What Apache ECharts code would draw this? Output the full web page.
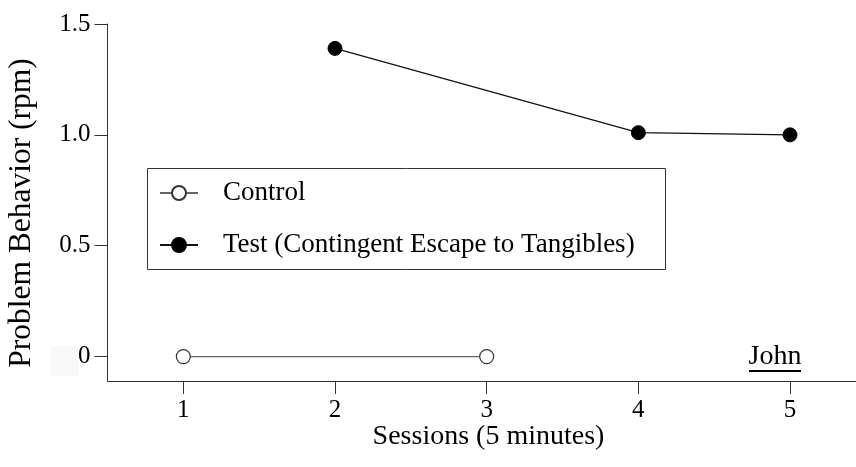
<!DOCTYPE html>
<html>
<head>
<meta charset="utf-8">
<script src="https://cdn.jsdelivr.net/npm/echarts@6/dist/echarts.min.js"></script>
<style>
html,body{margin:0;padding:0;background:#fff;}
#chart{width:856px;height:467px;}
</style>
</head>
<body>
<div id="chart"></div>
<script>
const sessions = [1, 2, 3, 4, 5];
const controlData = [[1, 0], [3, 0]];
const testData = [[2, 1.39], [4, 1.01], [5, 1.0]];
const yTicks = [0, 0.5, 1.0, 1.5];
const yTickLabels = {0: '0', 0.5: '0.5', 1: '1.0', 1.5: '1.5'};
const seriesNames = ['Control', 'Test (Contingent Escape to Tangibles)'];
const xName = 'Sessions (5 minutes)';
const yName = 'Problem Behavior (rpm)';
const panelLabel = 'John';

const FONT = '"Liberation Serif", "Times New Roman", serif';
const chart = echarts.init(document.getElementById('chart'), null, {renderer: 'canvas'});
chart.setOption({
  backgroundColor: '#fff',
  animation: false,
  textStyle: {fontFamily: FONT},
  grid: {left: 107.5, right: 0, top: 24, bottom: 86, containLabel: false},
  xAxis: {
    type: 'value', min: 0.5, max: 5.435, interval: 1,
    axisLine: {show: true, onZero: false, lineStyle: {color: '#333', width: 1}},
    axisTick: {show: true, length: 13, lineStyle: {color: '#333'},
      customValues: sessions},
    axisLabel: {fontFamily: FONT, fontSize: 25, color: '#000', margin: 17,
      customValues: sessions},
    splitLine: {show: false}
  },
  yAxis: {
    type: 'value', min: -0.11, max: 1.5,
    axisLine: {show: true, onZero: false, lineStyle: {color: '#333', width: 1}},
    axisTick: {show: true, length: 13, lineStyle: {color: '#333'},
      customValues: yTicks},
    axisLabel: {fontFamily: FONT, fontSize: 25, color: '#000', margin: 17,
      customValues: yTicks, formatter: v => yTickLabels[v] !== undefined ? yTickLabels[v] : ''},
    splitLine: {show: false}
  },
  legend: {
    orient: 'vertical', left: 159, top: 179.5, padding: 0,
    itemWidth: 38, itemHeight: 17.5, itemGap: 25,
    textStyle: {fontFamily: FONT, fontSize: 27, color: '#000', padding: [0, 0, 0, 20]},
    data: seriesNames
  },
  graphic: [
    {type: 'rect', shape: {x: 51, y: 346, width: 28, height: 30}, style: {fill: '#f8f8f8'}, z: -1, silent: true},
    {type: 'rect', shape: {x: 147.5, y: 168.5, width: 518, height: 101}, style: {fill: 'none', stroke: '#333', lineWidth: 1}, z: 10},
    {type: 'text', x: 488.5, y: 437, style: {text: xName, font: '28px ' + FONT, fill: '#000', textAlign: 'center', textVerticalAlign: 'middle'}},
    {type: 'text', x: 22, y: 213, rotation: Math.PI / 2, style: {text: yName, font: '31.5px ' + FONT, fill: '#000', textAlign: 'center', textVerticalAlign: 'middle'}},
    {type: 'text', x: 775, y: 357, style: {text: panelLabel, font: '28px ' + FONT, fill: '#000', textAlign: 'center', textVerticalAlign: 'middle'}},
    {type: 'line', shape: {x1: 749, y1: 371, x2: 801, y2: 371}, style: {stroke: '#000', lineWidth: 2}}
  ],
  series: [
    {
      name: seriesNames[0], type: 'line', data: controlData,
      symbol: 'circle', symbolSize: 14,
      lineStyle: {color: '#666', width: 1.2},
      itemStyle: {color: '#fff', borderColor: '#333', borderWidth: 1.2},
      z: 3
    },
    {
      name: seriesNames[1], type: 'line', data: testData,
      symbol: 'circle', symbolSize: 14,
      lineStyle: {color: '#111', width: 1.2},
      itemStyle: {color: '#000', borderColor: '#000', borderWidth: 1},
      z: 3
    }
  ]
});
</script>
</body>
</html>
